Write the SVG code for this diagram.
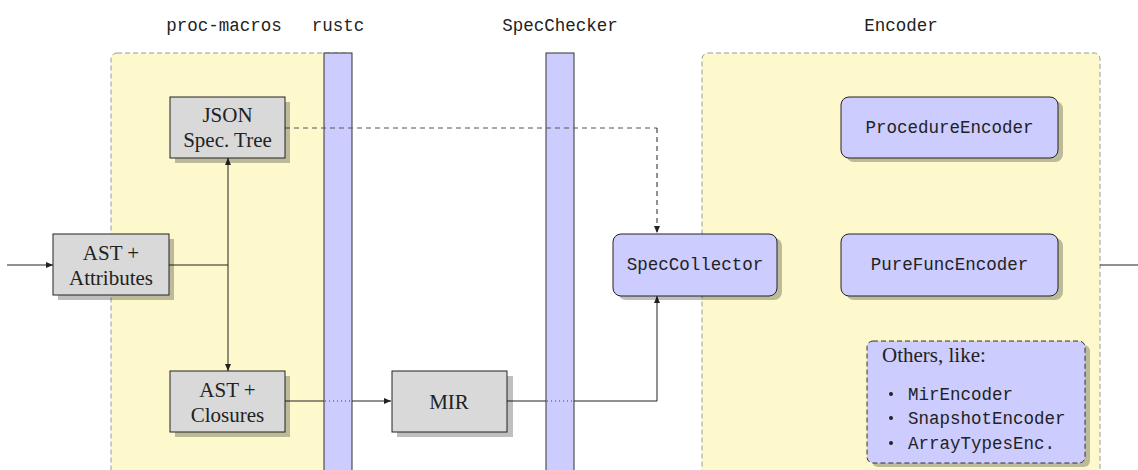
<svg xmlns="http://www.w3.org/2000/svg" width="1138" height="470" viewBox="0 0 1138 470">
<defs>
<style>
.region{fill:#fdf9cc;stroke:#999;stroke-width:1;stroke-dasharray:5,3}
.bar{fill:#ccccff;stroke:#333;stroke-width:1}
.gbox{fill:#d9d9d9;stroke:#222;stroke-width:1}
.bbox{fill:#ccccff;stroke:#222;stroke-width:1}
.shadow{fill:#000;opacity:0.25}
.serif{font-family:"Liberation Serif","Times New Roman",serif;font-size:21px;fill:#222}
.mono{font-family:"Liberation Mono","DejaVu Sans Mono",monospace;font-size:17.5px;fill:#222}
.title{font-family:"Liberation Mono","DejaVu Sans Mono",monospace;font-size:17.5px;fill:#222}
.conn{fill:none;stroke:#222;stroke-width:1}
.dot{fill:none;stroke:#444;stroke-width:1;stroke-dasharray:1,3}
</style>
<marker id="arr" markerWidth="8" markerHeight="8" refX="7" refY="4" orient="auto" markerUnits="userSpaceOnUse">
<path d="M0,1 L7,4 L0,7 Z" fill="#222"/>
</marker>
</defs>

<g id="regions">
<rect class="region" x="111" y="53" width="240" height="440" rx="6"/>
<rect class="region" x="702" y="53" width="398" height="440" rx="6"/>
</g>

<g id="titles">
<text class="title" x="224" y="31" text-anchor="middle">proc-macros</text>
<text class="title" x="338" y="31" text-anchor="middle">rustc</text>
<text class="title" x="560" y="31" text-anchor="middle">SpecChecker</text>
<text class="title" x="901" y="31" text-anchor="middle">Encoder</text>
</g>

<g id="bar-rustc"><rect class="bar" x="324" y="53" width="28" height="430"/></g>
<g id="bar-specchecker"><rect class="bar" x="546" y="53" width="28" height="430"/></g>

<g id="connectors">
<path class="conn" d="M7,265 L53,265" marker-end="url(#arr)"/>
<path class="conn" d="M169,265 L228,265"/>
<path class="conn" d="M228,265 L228,158" marker-end="url(#arr)"/>
<path class="conn" d="M228,265 L228,371" marker-end="url(#arr)"/>
<path class="conn" d="M285,401 L324,401"/>
<path class="dot" d="M325,401 L352,401"/>
<path class="conn" d="M352,401 L391,401" marker-end="url(#arr)"/>
<path class="conn" d="M507,401 L546,401"/>
<path class="dot" d="M547,401 L574,401"/>
<path class="conn" d="M574,401 L657,401 L657,296" marker-end="url(#arr)"/>
<path fill="none" stroke="#555" stroke-width="1" stroke-dasharray="5,4" d="M285,128 L657,128"/>
<path fill="none" stroke="#222" stroke-width="1" stroke-dasharray="5,4" d="M657,128 L657,233" marker-end="url(#arr)"/>
<path class="conn" d="M1100,265 L1138,265"/>
</g>

<g id="node-json">
<rect class="shadow" x="175" y="102" width="115" height="61"/>
<rect class="gbox" x="170" y="97" width="115" height="61"/>
<text class="serif" x="227.5" y="122" text-anchor="middle">JSON</text>
<text class="serif" x="227.5" y="147" text-anchor="middle">Spec.  Tree</text>
</g>

<g id="node-ast-attributes">
<rect class="shadow" x="58" y="239" width="116" height="61"/>
<rect class="gbox" x="53" y="234" width="116" height="61"/>
<text class="serif" x="111" y="260" text-anchor="middle">AST +</text>
<text class="serif" x="111" y="285" text-anchor="middle">Attributes</text>
</g>

<g id="node-ast-closures">
<rect class="shadow" x="175" y="376" width="115" height="61"/>
<rect class="gbox" x="170" y="371" width="115" height="61"/>
<text class="serif" x="227.5" y="397" text-anchor="middle">AST +</text>
<text class="serif" x="227.5" y="422" text-anchor="middle">Closures</text>
</g>

<g id="node-mir">
<rect class="shadow" x="397" y="376" width="116" height="61"/>
<rect class="gbox" x="392" y="371" width="115" height="61"/>
<text class="serif" x="449" y="409" text-anchor="middle">MIR</text>
</g>

<g id="node-speccollector">
<rect class="shadow" x="618" y="238" width="164" height="62" rx="8"/>
<rect class="bbox" x="613" y="234" width="164" height="62" rx="8"/>
<text class="mono" x="695" y="270" text-anchor="middle">SpecCollector</text>
</g>

<g id="node-procedureencoder">
<rect class="shadow" x="846" y="101" width="217" height="61" rx="8"/>
<rect class="bbox" x="841" y="97" width="217" height="61" rx="8"/>
<text class="mono" x="949.5" y="133" text-anchor="middle">ProcedureEncoder</text>
</g>

<g id="node-purefuncencoder">
<rect class="shadow" x="846" y="238" width="217" height="62" rx="8"/>
<rect class="bbox" x="841" y="234" width="217" height="62" rx="8"/>
<text class="mono" x="949.5" y="270" text-anchor="middle">PureFuncEncoder</text>
</g>

<g id="node-others">
<rect class="shadow" x="872" y="345" width="218" height="122" rx="6"/>
<rect x="867" y="341" width="218" height="122" rx="6" fill="#ccccff" stroke="#333" stroke-width="1" stroke-dasharray="5,3"/>
<text class="serif" x="882" y="362">Others, like:</text>
<circle cx="891" cy="394" r="2" fill="#222"/>
<circle cx="891" cy="418" r="2" fill="#222"/>
<circle cx="891" cy="443" r="2" fill="#222"/>
<text class="mono" x="908" y="400">MirEncoder</text>
<text class="mono" x="908" y="424">SnapshotEncoder</text>
<text class="mono" x="908" y="449">ArrayTypesEnc.</text>
</g>
</svg>
